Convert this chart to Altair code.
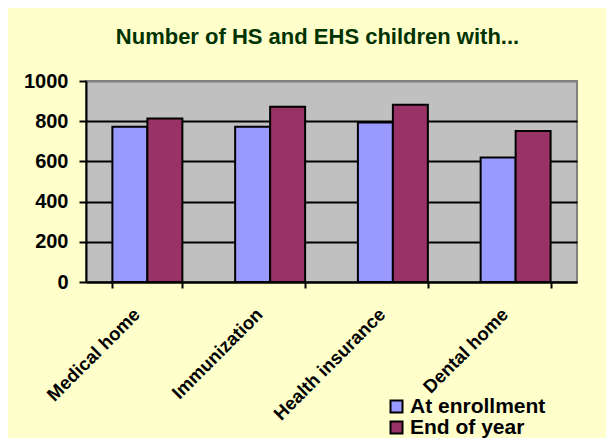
import altair as alt
import pandas as pd

categories = ["Medical home", "Immunization", "Health insurance", "Dental home"]
series = ["At enrollment", "End of year"]
at_enrollment = [773, 773, 793, 620]
end_of_year = [814, 872, 882, 751]
colors = ["#9999FF", "#993366"]
y_ticks = [0, 200, 400, 600, 800, 1000]

rows = []
for i, c in enumerate(categories):
    rows.append({"category": c, "series": series[0], "value": at_enrollment[i]})
    rows.append({"category": c, "series": series[1], "value": end_of_year[i]})
df = pd.DataFrame(rows)

FONT = "Liberation Sans"

chart = alt.Chart(df).mark_bar(stroke="black", strokeWidth=2).encode(
    x=alt.X("category:N", sort=categories,
            scale=alt.Scale(paddingInner=0.43, paddingOuter=0.215),
            axis=alt.Axis(title=None, labelAngle=-45, labelAlign="right",
                          labelBaseline="middle", labelFontSize=18.5,
                          labelFontWeight="bold", labelFont=FONT,
                          labelColor="black", labelPadding=23, labelOffset=-11,
                          tickBand="extent", tickSize=6, tickWidth=2,
                          tickColor="black", domainColor="black",
                          domainWidth=2, grid=False)),
    xOffset=alt.XOffset("series:N", sort=series,
                        scale=alt.Scale(paddingInner=0, paddingOuter=0)),
    y=alt.Y("value:Q", scale=alt.Scale(domain=[0, 1000], nice=False),
            axis=alt.Axis(title=None, values=y_ticks, format="d",
                          labelFontSize=20,
                          labelFontWeight="bold", labelFont=FONT,
                          labelColor="black", labelPadding=11,
                          tickSize=7, tickWidth=2, tickColor="black",
                          domainColor="black", domainWidth=2,
                          grid=True, gridWidth=2,
                          gridColor={"condition": {"test": "datum.value === 1000", "value": "#808080"}, "value": "black"})),
    color=alt.Color("series:N", sort=series,
                    scale=alt.Scale(domain=series, range=colors),
                    legend=alt.Legend(title=None, orient="none",
                                      legendX=300, legendY=315,
                                      symbolType="square", symbolSize=144,
                                      symbolStrokeColor="black",
                                      symbolStrokeWidth=2,
                                      labelFontSize=21, labelFontWeight="bold",
                                      labelFont=FONT, labelColor="black",
                                      labelOffset=3, rowPadding=-12)),
).properties(
    width=491,
    height=201,
    title=alt.TitleParams("Number of HS and EHS children with...",
                          fontSize=22, fontWeight="bold", font=FONT,
                          color="#003300", anchor="middle", dx=-14,
                          offset=22),
    autosize=alt.AutoSizeParams(type="none"),
    padding={"left": 78, "top": 73, "right": 29, "bottom": 156},
    background="#FFFFCC",
).configure_view(
    fill="#C0C0C0", stroke="#808080", strokeWidth=2
)

chart.save("out.html", embed_options={"renderer": "svg", "actions": False})
